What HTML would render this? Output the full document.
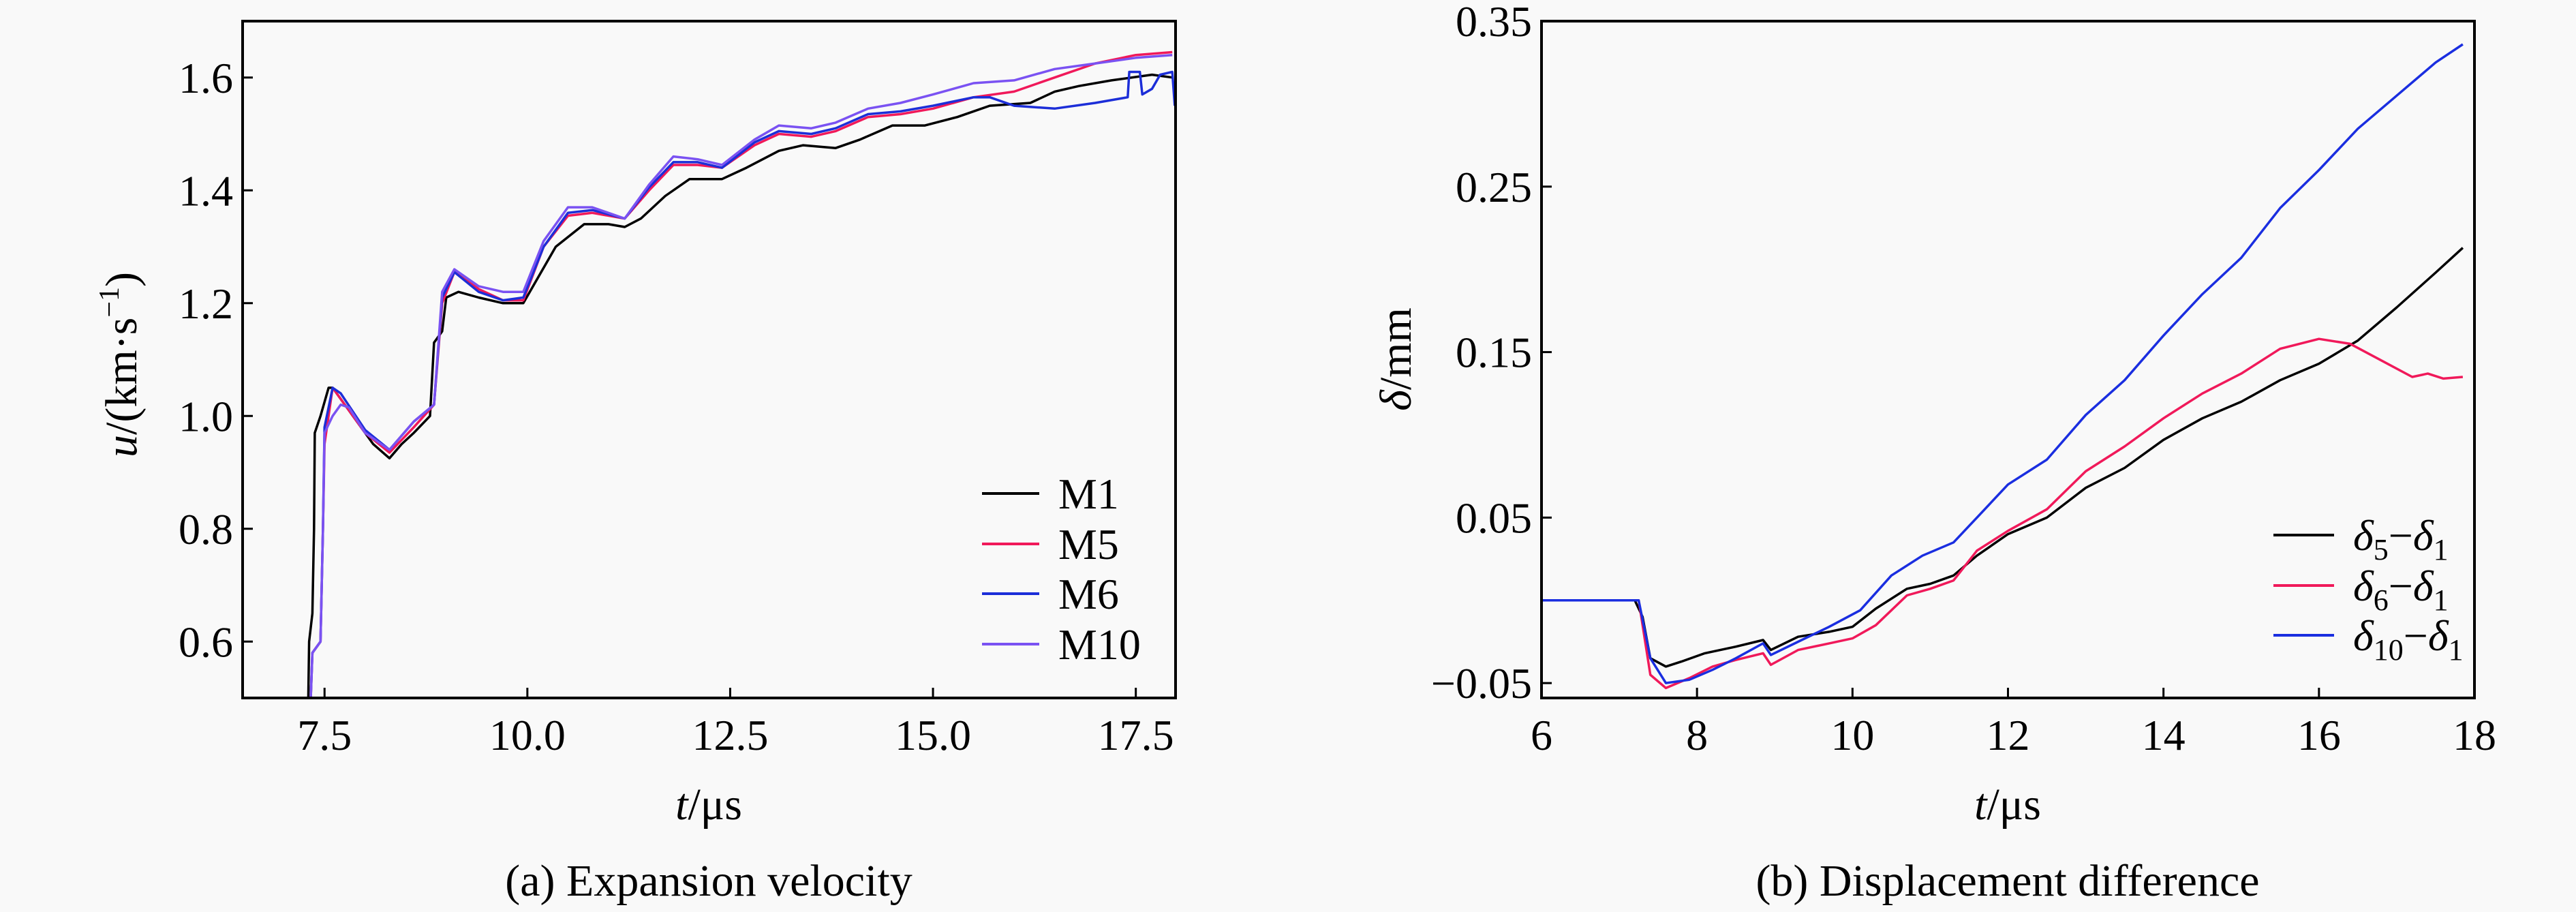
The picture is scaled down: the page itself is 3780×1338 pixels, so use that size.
<!DOCTYPE html>
<html><head><meta charset="utf-8">
<style>
html,body{margin:0;padding:0;background:#f9f9f9;}
svg, svg text{font-family:"Liberation Serif","Times New Roman","DejaVu Serif","Noto Serif CJK SC",serif;}
</style></head>
<body>
<svg id="chart" width="3780" height="1333" viewBox="0 0 3780 1333">
<rect x="0" y="0" width="3780" height="1333" fill="#f9f9f9"/>
</svg>
<script>
// ---- Panel (a) data ----
const aXTicks = [7.5, 10.0, 12.5, 15.0, 17.5];
const aXTickLabels = ["7.5", "10.0", "12.5", "15.0", "17.5"];
const aYTicks = [0.6, 0.8, 1.0, 1.2, 1.4, 1.6];
const aYTickLabels = ["0.6", "0.8", "1.0", "1.2", "1.4", "1.6"];
const m1T = [7.3,7.31,7.35,7.37,7.38,7.45,7.55,7.6,7.85,8.1,8.3,8.45,8.6,8.8,8.85,8.95,9.0,9.15,9.4,9.7,9.95,10.15,10.35,10.7,11.0,11.2,11.4,11.7,12.0,12.4,12.7,13.1,13.4,13.8,14.1,14.5,14.9,15.3,15.7,16.2,16.5,16.8,17.2,17.7,17.95];
const m1V = [0.5,0.6,0.65,0.8,0.97,1.0,1.05,1.05,1.0,0.95,0.925,0.95,0.97,1.0,1.13,1.15,1.21,1.22,1.21,1.2,1.2,1.25,1.3,1.34,1.34,1.335,1.35,1.39,1.42,1.42,1.44,1.47,1.48,1.475,1.49,1.515,1.515,1.53,1.55,1.555,1.575,1.585,1.595,1.605,1.6];
const m5T = [7.33,7.35,7.45,7.48,7.5,7.6,7.7,8.0,8.3,8.6,8.85,8.95,9.1,9.4,9.7,9.95,10.2,10.5,10.8,11.2,11.5,11.8,12.1,12.4,12.8,13.1,13.5,13.8,14.2,14.6,15.0,15.5,16.0,16.5,17.0,17.5,17.95];
const m5V = [0.5,0.58,0.6,0.8,0.95,1.05,1.03,0.97,0.935,0.98,1.02,1.2,1.255,1.225,1.205,1.205,1.3,1.355,1.36,1.35,1.4,1.445,1.445,1.44,1.48,1.5,1.495,1.505,1.53,1.535,1.545,1.565,1.575,1.6,1.625,1.64,1.645];
const m6T = [7.33,7.35,7.45,7.48,7.5,7.6,7.7,8.0,8.3,8.6,8.85,8.95,9.1,9.4,9.7,9.95,10.2,10.5,10.8,11.2,11.5,11.8,12.1,12.4,12.8,13.1,13.5,13.8,14.2,14.6,15.0,15.5,15.7,16.0,16.5,17.0,17.4,17.42,17.55,17.58,17.7,17.8,17.95,17.98];
const m6V = [0.5,0.58,0.6,0.8,0.98,1.05,1.04,0.975,0.94,0.99,1.02,1.21,1.255,1.22,1.205,1.21,1.3,1.36,1.365,1.35,1.405,1.45,1.45,1.44,1.485,1.505,1.5,1.51,1.535,1.54,1.55,1.565,1.565,1.55,1.545,1.555,1.565,1.61,1.61,1.57,1.58,1.605,1.61,1.55];
const m10T = [7.33,7.35,7.45,7.48,7.5,7.6,7.7,7.8,8.0,8.3,8.6,8.85,8.95,9.1,9.4,9.7,9.95,10.2,10.5,10.8,11.2,11.5,11.8,12.1,12.4,12.8,13.1,13.5,13.8,14.2,14.6,15.0,15.5,16.0,16.5,17.0,17.5,17.95];
const m10V = [0.5,0.58,0.6,0.8,0.97,1.0,1.02,1.015,0.97,0.94,0.99,1.02,1.22,1.26,1.23,1.22,1.22,1.31,1.37,1.37,1.35,1.41,1.46,1.455,1.445,1.49,1.515,1.51,1.52,1.545,1.555,1.57,1.59,1.595,1.615,1.625,1.635,1.64];

// ---- Panel (b) data ----
const bXTicks = [6, 8, 10, 12, 14, 16, 18];
const bXTickLabels = ["6", "8", "10", "12", "14", "16", "18"];
const bYTicks = [-0.05, 0.05, 0.15, 0.25, 0.35];
const bYTickLabels = ["\u22120.05", "0.05", "0.15", "0.25", "0.35"];
const d5T = [6,7.2,7.3,7.4,7.6,7.8,8.1,8.5,8.85,8.95,9.3,9.7,10.0,10.3,10.7,11.0,11.3,11.6,12.0,12.5,13.0,13.5,14.0,14.5,15.0,15.5,16.0,16.5,17.0,17.5,17.85];
const d5V = [0,0,-0.01,-0.035,-0.04,-0.037,-0.032,-0.028,-0.024,-0.03,-0.022,-0.019,-0.016,-0.005,0.007,0.01,0.015,0.027,0.04,0.05,0.068,0.08,0.097,0.11,0.12,0.133,0.143,0.157,0.177,0.198,0.213];
const d6T = [6,7.25,7.3,7.4,7.6,7.9,8.2,8.5,8.85,8.95,9.3,9.7,10.0,10.3,10.7,11.0,11.3,11.6,12.0,12.5,13.0,13.5,14.0,14.5,15.0,15.5,16.0,16.4,16.8,17.2,17.4,17.6,17.85];
const d6V = [0,0,-0.015,-0.045,-0.053,-0.047,-0.04,-0.036,-0.032,-0.039,-0.03,-0.026,-0.023,-0.015,0.003,0.007,0.012,0.03,0.042,0.055,0.078,0.093,0.11,0.125,0.137,0.152,0.158,0.155,0.145,0.135,0.137,0.134,0.135];
const d10T = [6,7.25,7.4,7.6,7.9,8.2,8.5,8.85,8.95,9.3,9.7,10.1,10.5,10.9,11.3,11.6,12.0,12.5,13.0,13.5,14.0,14.5,15.0,15.5,16.0,16.5,17.0,17.5,17.85];
const d10V = [0,0,-0.035,-0.05,-0.048,-0.042,-0.035,-0.026,-0.033,-0.025,-0.016,-0.006,0.015,0.027,0.035,0.05,0.07,0.085,0.112,0.133,0.16,0.185,0.207,0.237,0.26,0.285,0.305,0.325,0.336];

const NS = "http://www.w3.org/2000/svg";
const svg = document.getElementById("chart");
function mk(tag, attrs, parent) {
  const e = document.createElementNS(NS, tag);
  for (const k in attrs) e.setAttribute(k, attrs[k]);
  (parent || svg).appendChild(e);
  return e;
}

function panel(cfg) {
  const g = mk("g", {});
  
  
  const L = cfg.L, R = cfg.R, T = 31, B = 1024;
  const sx = v => L + (v - cfg.x0) / (cfg.x1 - cfg.x0) * (R - L);
  const sy = v => B - (v - cfg.y0) / (cfg.y1 - cfg.y0) * (B - T);
  const clip = mk("clipPath", {id: cfg.name + "-clip"}, g);
  mk("rect", {x: L, y: T, width: R - L, height: B - T}, clip);
  cfg.series.forEach(s => {
    const d = s.t.map((t, i) => (i ? "L" : "M") + sx(t).toFixed(1) + "," + sy(s.v[i]).toFixed(1)).join(" ");
    const p = mk("path", {d: d, fill: "none", stroke: s.color, "stroke-width": 3.5, "stroke-linejoin": "round", "clip-path": "url(#" + cfg.name + "-clip)"}, g);
    
    
  });
  const fr = mk("rect", {x: L, y: T, width: R - L, height: B - T, fill: "none", stroke: "#000", "stroke-width": 4}, g);
  
  
  cfg.xt.forEach((v, i) => {
    const x = sx(v);
    const tk = mk("line", {x1: x, x2: x, y1: B, y2: B - 15, stroke: "#000", "stroke-width": 3}, g);
    
    
    const tx = mk("text", {x: x, y: B + 76, "font-size": 64, "text-anchor": "middle"}, g);
    tx.textContent = cfg.xl[i];
    
    
  });
  cfg.yt.forEach((v, i) => {
    const y = sy(v);
    const tk = mk("line", {x1: L, x2: L + 15, y1: y, y2: y, stroke: "#000", "stroke-width": 3}, g);
    
    
    const tx = mk("text", {x: L - 14, y: y + 22, "font-size": 64, "text-anchor": "end"}, g);
    tx.textContent = cfg.yl[i];
    
    
  });
  cfg.series.forEach((s, i) => {
    const y = cfg.legY[i];
    const ln = mk("line", {x1: cfg.legX, x2: cfg.legX + cfg.legW, y1: y, y2: y, stroke: s.color, "stroke-width": 4}, g);
    
    
    const tx = mk("text", {x: cfg.legX + cfg.legW + 28, y: y + 22, "font-size": 64}, g);
    tx.innerHTML = s.label;
    
    
  });
  return {sx, sy};
}

panel({name: "panel-a", L: 356, R: 1725, x0: 6.49, x1: 17.99, y0: 0.5, y1: 1.7,
  xt: aXTicks, xl: aXTickLabels, yt: aYTicks, yl: aYTickLabels,
  legX: 1441, legW: 84, legY: [724, 798, 871, 945],
  series: [
    {id: "m1", t: m1T, v: m1V, color: "#000000", label: "M1"},
    {id: "m5", t: m5T, v: m5V, color: "#f0195a", label: "M5"},
    {id: "m6", t: m6T, v: m6V, color: "#1c2ed8", label: "M6"},
    {id: "m10", t: m10T, v: m10V, color: "#7a52f2", label: "M10"}
  ]});
panel({name: "panel-b", L: 2262, R: 3631, x0: 6, x1: 18, y0: -0.059, y1: 0.35,
  xt: bXTicks, xl: bXTickLabels, yt: bYTicks, yl: bYTickLabels,
  legX: 3336, legW: 89, legY: [785, 859, 932],
  series: [
    {id: "d5", t: d5T, v: d5V, color: "#000000", label: '<tspan font-style="italic">δ</tspan><tspan font-size="44" dy="14">5</tspan><tspan dy="-14">−</tspan><tspan font-style="italic">δ</tspan><tspan font-size="44" dy="14">1</tspan>'},
    {id: "d6", t: d6T, v: d6V, color: "#f0195a", label: '<tspan font-style="italic">δ</tspan><tspan font-size="44" dy="14">6</tspan><tspan dy="-14">−</tspan><tspan font-style="italic">δ</tspan><tspan font-size="44" dy="14">1</tspan>'},
    {id: "d10", t: d10T, v: d10V, color: "#1a2ee0", label: '<tspan font-style="italic">δ</tspan><tspan font-size="44" dy="14">10</tspan><tspan dy="-14">−</tspan><tspan font-style="italic">δ</tspan><tspan font-size="44" dy="14">1</tspan>'}
  ]});

function title(x, y, html, name, rot) {
  const e = mk("text", {x: x, y: y, "font-size": 66, "text-anchor": "middle"});
  if (rot) e.setAttribute("transform", "rotate(-90 " + x + " " + y + ")");
  e.innerHTML = html;
  
  
}
title(200, 535, '<tspan font-style="italic">u</tspan>/(km·s<tspan font-size="42" dy="-26">−1</tspan><tspan dy="26">)</tspan>', 'y-axis-title-a', true);
title(1040, 1202, '<tspan font-style="italic">t</tspan>/μs', 'x-axis-title-a');
title(1040, 1314, '(a) Expansion velocity', 'caption-a');
title(2070, 527, '<tspan font-style="italic">δ</tspan>/mm', 'y-axis-title-b', true);
title(2946, 1202, '<tspan font-style="italic">t</tspan>/μs', 'x-axis-title-b');
title(2946, 1314, '(b) Displacement difference', 'caption-b');
</script>
</body></html>
